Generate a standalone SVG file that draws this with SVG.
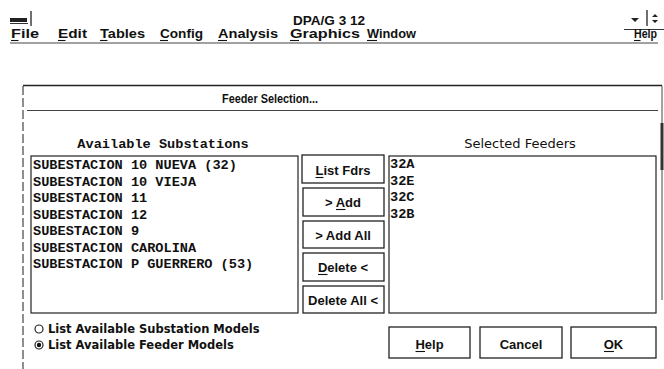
<svg xmlns="http://www.w3.org/2000/svg" width="664" height="369" viewBox="0 0 664 369">
  <style>
    .ui { font-family: "Liberation Sans", Arial, sans-serif; font-weight: bold; font-size: 13px; fill: #111; }
    .sys { font-family: "DejaVu Sans", "Liberation Sans", sans-serif; font-weight: bold; fill: #111; }
    .mono { font-family: "Liberation Mono", "DejaVu Sans Mono", monospace; font-weight: bold; font-size: 13.6px; fill: #111; }
    .ul { stroke: #111; stroke-width: 1.1; }
    .frame { fill: none; stroke: #222; stroke-width: 1.2; }
    .btn { fill: #fff; stroke: #222; stroke-width: 1.3; }
  </style>
  <rect width="664" height="369" fill="#fff"/>

  <!-- application title and window controls -->
  <g id="app-title">
    <rect x="10" y="18" width="17" height="4" fill="#222"/>
    <line x1="10" y1="23.5" x2="28" y2="23.5" stroke="#333"/>
    <line x1="31" y1="11" x2="31" y2="26" stroke="#222" stroke-width="1.3"/>
    <text class="ui" x="329" y="24.5" text-anchor="middle" style="font-size:12.5px" textLength="72" lengthAdjust="spacingAndGlyphs">DPA/G 3 12</text>
    <path d="M631 18 h8 l-4 4 z" fill="#222"/>
    <line x1="647" y1="10" x2="647" y2="26" stroke="#222" stroke-width="1.3"/>
    <path d="M652 17 l3 -3 l3 3 z M652 20 l3 3 l3 -3 z" fill="#222"/>
    <line x1="624" y1="29.5" x2="664" y2="29.5" stroke="#333"/>
  </g>

  <!-- menu bar -->
  <g id="menu-bar">
    <g class="ui" style="font-size:12px">
      <text x="11" y="38" textLength="28" lengthAdjust="spacingAndGlyphs">File</text>
      <text x="58" y="38" textLength="29" lengthAdjust="spacingAndGlyphs">Edit</text>
      <text x="100" y="38" textLength="45" lengthAdjust="spacingAndGlyphs">Tables</text>
      <text x="160" y="38" textLength="43" lengthAdjust="spacingAndGlyphs">Config</text>
      <text x="218" y="38" textLength="60" lengthAdjust="spacingAndGlyphs">Analysis</text>
      <text x="290" y="38" textLength="70" lengthAdjust="spacingAndGlyphs">Graphics</text>
      <text x="367" y="38" textLength="49" lengthAdjust="spacingAndGlyphs">Window</text>
      <text x="634" y="38" textLength="23" lengthAdjust="spacingAndGlyphs">Help</text>
    </g>
    <g class="ul">
      <line x1="11" y1="40.5" x2="18.5" y2="40.5"/>
      <line x1="58" y1="40.5" x2="65.5" y2="40.5"/>
      <line x1="100" y1="40.5" x2="107.5" y2="40.5"/>
      <line x1="160" y1="40.5" x2="168" y2="40.5"/>
      <line x1="218" y1="40.5" x2="227" y2="40.5"/>
      <line x1="290" y1="40.5" x2="299" y2="40.5"/>
      <line x1="367" y1="40.5" x2="377" y2="40.5"/>
      <line x1="634" y1="40.5" x2="640.5" y2="40.5"/>
    </g>
    <line x1="10" y1="43" x2="658" y2="43" stroke="#444"/>
  </g>

  <!-- dialog frame -->
  <g id="dialog">
    <line x1="23" y1="85.5" x2="662" y2="85.5" stroke="#222" stroke-width="1.3"/>
    <line x1="23" y1="86" x2="23" y2="369" stroke="#444" stroke-width="1.2" stroke-dasharray="9 3"/>
    <line x1="662" y1="86" x2="662" y2="300" stroke="#666" stroke-width="1.2"/>
    <rect x="660.5" y="123" width="3" height="47" fill="#333"/>
    <text class="ui" x="270" y="103" text-anchor="middle" style="font-size:12px" textLength="96" lengthAdjust="spacingAndGlyphs">Feeder Selection...</text>
    <line x1="27" y1="110.5" x2="658" y2="110.5" stroke="#444" stroke-width="1.2"/>
  </g>

  <!-- available substations list -->
  <g id="available-list">
    <text class="mono" x="163" y="148" text-anchor="middle">Available Substations</text>
    <rect class="frame" x="31" y="156" width="267" height="157"/>
    <text class="mono">
      <tspan x="33" y="169">SUBESTACION 10 NUEVA (32)</tspan>
      <tspan x="33" y="185.5">SUBESTACION 10 VIEJA</tspan>
      <tspan x="33" y="202">SUBESTACION 11</tspan>
      <tspan x="33" y="218.5">SUBESTACION 12</tspan>
      <tspan x="33" y="235">SUBESTACION 9</tspan>
      <tspan x="33" y="251.5">SUBESTACION CAROLINA</tspan>
      <tspan x="33" y="268">SUBESTACION P GUERRERO (53)</tspan>
    </text>
  </g>

  <!-- transfer buttons -->
  <g id="btn-list-fdrs">
    <rect class="btn" x="302" y="155" width="82" height="28"/>
    <text class="ui" x="343" y="175" text-anchor="middle">List Fdrs</text>
    <line class="ul" x1="315.5" y1="177.5" x2="323.5" y2="177.5"/>
  </g>
  <g id="btn-add">
    <rect class="btn" x="303" y="188" width="81" height="28"/>
    <text class="ui" x="343" y="207" text-anchor="middle">&gt; Add</text>
    <line class="ul" x1="336" y1="209.5" x2="345.5" y2="209.5"/>
  </g>
  <g id="btn-add-all">
    <rect class="btn" x="303" y="221" width="81" height="27"/>
    <text class="ui" x="343" y="240" text-anchor="middle">&gt; Add All</text>
  </g>
  <g id="btn-delete">
    <rect class="btn" x="303" y="253" width="81" height="28"/>
    <text class="ui" x="343" y="272" text-anchor="middle">Delete &lt;</text>
    <line class="ul" x1="318" y1="274.5" x2="327.5" y2="274.5"/>
  </g>
  <g id="btn-delete-all">
    <rect class="btn" x="303" y="286" width="81" height="27"/>
    <text class="ui" x="343" y="305" text-anchor="middle">Delete All &lt;</text>
  </g>

  <!-- selected feeders list -->
  <g id="selected-list">
    <text class="sys" x="520" y="148" text-anchor="middle" style="font-weight:normal;font-size:13px">Selected Feeders</text>
    <rect class="frame" x="389" y="156" width="267" height="157"/>
    <text class="mono">
      <tspan x="390" y="168">32A</tspan>
      <tspan x="390" y="184.5">32E</tspan>
      <tspan x="390" y="201">32C</tspan>
      <tspan x="390" y="217.5">32B</tspan>
    </text>
  </g>

  <!-- model type radio buttons -->
  <g id="radio-substation">
    <circle cx="39" cy="329" r="4" fill="none" stroke="#222" stroke-width="1.2"/>
    <text class="sys" x="48" y="333" style="font-size:11.5px">List Available Substation Models</text>
  </g>
  <g id="radio-feeder">
    <circle cx="39" cy="345" r="4" fill="none" stroke="#222" stroke-width="1.2"/>
    <circle cx="39" cy="345" r="2.2" fill="#111"/>
    <text class="sys" x="48" y="349" style="font-size:11.5px">List Available Feeder Models</text>
  </g>

  <!-- dialog action buttons -->
  <g id="btn-help">
    <rect class="btn" x="389" y="327" width="81" height="31"/>
    <text class="ui" x="429.5" y="349" text-anchor="middle">Help</text>
    <line class="ul" x1="415.5" y1="351.5" x2="425" y2="351.5"/>
  </g>
  <g id="btn-cancel">
    <rect class="btn" x="480" y="327" width="82" height="31"/>
    <text class="ui" x="521" y="349" text-anchor="middle">Cancel</text>
  </g>
  <g id="btn-ok">
    <rect class="btn" x="571" y="327" width="85" height="31" stroke-width="2.2"/>
    <text class="ui" x="613.5" y="349" text-anchor="middle">OK</text>
    <line class="ul" x1="604" y1="351.5" x2="614" y2="351.5"/>
  </g>

  <g id="connectors"/>
</svg>
